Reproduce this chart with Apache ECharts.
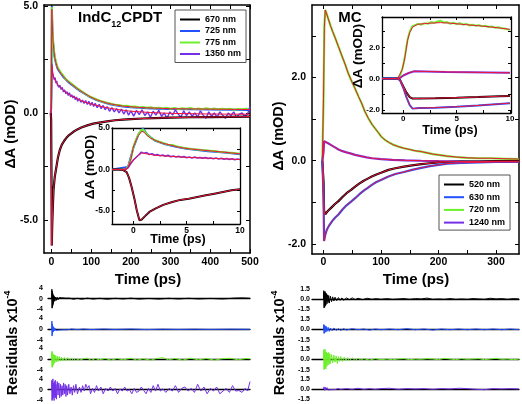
<!DOCTYPE html>
<html><head><meta charset="utf-8">
<script src="https://cdn.jsdelivr.net/npm/echarts@6.0.0/dist/echarts.min.js"></script>
<style>html,body{margin:0;padding:0;background:#fff}#c{width:522px;height:404px}</style>
</head><body><div id="c"></div>
<script>
// ---------- IndC12CPDT main (t ps, dA mOD) ----------
const ind670 = [[-2,0],[-1,-0.3],[0,-3.5],[0.6,-6.2],[1.5,-5.4],[3,-4.5],[5,-3.6],[8,-3.0],[12,-2.55],[16,-2.1],[21,-1.72],[26,-1.48],[32,-1.3],[38,-1.15],[45,-1.02],[55,-0.88],[65,-0.77],[75,-0.68],[90,-0.58],[105,-0.5],[120,-0.45],[140,-0.39],[160,-0.34],[180,-0.31],[200,-0.29],[230,-0.26],[260,-0.24],[300,-0.22],[350,-0.2],[400,-0.19],[450,-0.18],[500,-0.17]];
const ind725 = [[-2,0],[-1,0.2],[0,2.7],[0.8,5.0],[1.5,4.35],[2.5,3.78],[4,3.28],[6,2.88],[8,2.58],[11,2.33],[15,2.08],[20,1.93],[25,1.8],[30,1.68],[36,1.56],[42,1.45],[48,1.36],[54,1.28],[62,1.16],[70,1.05],[80,0.94],[90,0.82],[97,0.74],[105,0.67],[115,0.59],[125,0.53],[139,0.45],[150,0.4],[165,0.35],[180,0.3],[200,0.27],[220,0.24],[240,0.22],[270,0.2],[300,0.18],[350,0.17],[400,0.16],[450,0.15],[500,0.14]];
const ind775 = [[-2,0],[-1,0.2],[0,2.9],[0.8,4.95],[1.5,4.5],[2.5,3.9],[4,3.35],[6,2.95],[8,2.65],[11,2.4],[15,2.15],[20,2.0],[25,1.85],[30,1.74],[35,1.6],[40,1.52],[45,1.45],[50,1.36],[55,1.3],[60,1.24],[65,1.15],[70,1.1],[75,1.02],[80,0.98],[85,0.9],[90,0.86],[95,0.78],[100,0.75],[105,0.7],[110,0.66],[115,0.62],[120,0.6],[125,0.55],[130,0.53],[135,0.5],[140,0.47],[145,0.45],[150,0.44],[160,0.38],[170,0.37],[180,0.33],[190,0.34],[200,0.29],[210,0.3],[220,0.26],[230,0.28],[240,0.24],[250,0.27],[260,0.22],[270,0.25],[280,0.21],[290,0.24],[300,0.2],[310,0.23],[320,0.19],[330,0.22],[340,0.2],[350,0.23],[360,0.18],[370,0.21],[380,0.17],[390,0.22],[400,0.18],[410,0.21],[420,0.16],[430,0.2],[440,0.17],[450,0.2],[460,0.15],[470,0.19],[480,0.17],[490,0.2],[500,0.18]];
const ind775Fit = [[-2,0],[-1,0.2],[0,2.8],[0.8,4.85],[1.5,4.4],[2.5,3.8],[4,3.3],[6,2.9],[8,2.6],[11,2.35],[15,2.1],[20,1.95],[25,1.82],[30,1.7],[36,1.58],[42,1.47],[48,1.38],[54,1.3],[62,1.18],[70,1.07],[80,0.96],[90,0.84],[97,0.76],[105,0.69],[115,0.61],[125,0.55],[139,0.47],[150,0.42],[165,0.37],[180,0.32],[200,0.29],[220,0.26],[240,0.24],[270,0.22],[300,0.2],[350,0.19],[400,0.18],[450,0.17],[500,0.16]];
const ind1350 = [[-2,0],[-1,-0.3],[0,1.0],[1,2.3],[2,2.0],[3,1.85],[5,1.7],[7,1.55],[9,1.65],[11,1.4],[13,1.5],[15,1.3],[17,1.38],[19,1.2],[21,1.3],[24,1.1],[27,1.2],[30,0.98],[33,1.08],[36,0.9],[39,1.0],[42,0.82],[45,0.95],[48,0.75],[51,0.85],[54,0.7],[57,0.8],[60,0.62],[63,0.75],[66,0.55],[70,0.68],[74,0.5],[78,0.6],[82,0.45],[86,0.58],[90,0.4],[94,0.55],[98,0.35],[102,0.5],[106,0.3],[110,0.45],[115,0.25],[120,0.4],[125,0.2],[130,0.35],[135,0.15],[140,0.3],[146,0.08],[152,0.25],[158,0.05],[164,0.2],[170,0.0],[176,0.18],[182,-0.05],[188,0.15],[194,-0.1],[200,0.1],[207,-0.15],[214,0.12],[221,-0.08],[228,0.15],[235,-0.12],[242,0.05],[249,-0.2],[256,0.08],[263,-0.1],[270,0.12],[277,-0.15],[284,0.0],[291,-0.25],[298,0.05],[305,-0.1],[312,0.15],[319,-0.05],[326,-0.2],[333,0.1],[340,-0.12],[347,0.05],[354,-0.15],[361,0.0],[368,-0.2],[375,0.1],[382,-0.1],[389,-0.25],[396,0.05],[403,-0.15],[410,0.0],[417,-0.2],[424,0.05],[431,-0.1],[438,-0.25],[445,0.0],[452,-0.12],[459,0.05],[466,-0.2],[473,-0.05],[480,0.0],[487,-0.15],[494,-0.05],[500,0.3]];
const ind1350Fit = [[-2,0],[0,0.5],[1,2.2],[2,1.95],[4,1.75],[7,1.6],[10,1.5],[15,1.35],[20,1.24],[30,1.05],[40,0.92],[50,0.8],[60,0.7],[75,0.57],[90,0.47],[110,0.37],[130,0.28],[150,0.21],[175,0.14],[200,0.08],[250,0.02],[300,-0.02],[400,-0.05],[500,-0.06]];

// ---------- IndC12CPDT inset (0-10 ps) ----------
const indIn670 = [[-2,0],[-1.5,0.02],[-1,-0.03],[-0.63,-0.3],[-0.4,-1.0],[-0.16,-2.1],[0.1,-3.5],[0.32,-4.9],[0.57,-6.1],[0.8,-6.0],[1.1,-5.6],[1.5,-5.1],[2.06,-4.7],[2.8,-4.25],[3.65,-3.9],[4.4,-3.65],[5.2,-3.5],[6,-3.3],[6.8,-3.1],[7.6,-2.9],[8.4,-2.7],[9.2,-2.5],[10,-2.36]];
const indIn725 = [[-2,0],[-0.5,0.3],[0,2.6],[0.5,4.3],[0.9,4.95],[1.3,4.2],[2,3.5],[3,3.05],[4,2.75],[5,2.5],[6,2.35],[7,2.2],[8,2.1],[9,2.0],[10,1.85]];
const indIn775 = [[-2,0.02],[-1.5,-0.02],[-1,0.03],[-0.7,0.05],[-0.47,0.35],[-0.2,1.4],[0,2.7],[0.25,3.6],[0.47,4.2],[0.7,4.7],[0.9,4.85],[1.1,4.5],[1.3,4.2],[1.6,3.85],[2.0,3.55],[2.4,3.35],[2.8,3.2],[3.2,3.0],[3.65,2.95],[4.0,2.8],[4.4,2.7],[4.8,2.6],[5.2,2.52],[5.6,2.45],[6.0,2.42],[6.4,2.35],[6.8,2.32],[7.2,2.25],[7.6,2.24],[8.0,2.15],[8.4,2.12],[8.8,2.05],[9.2,2.02],[9.6,1.95],[10,1.92]];
const indIn775Fit = [[-2,0],[-1,0],[-0.7,0.05],[-0.47,0.3],[-0.2,1.4],[0,2.7],[0.25,3.5],[0.47,4.1],[0.8,4.6],[1.0,4.5],[1.3,4.1],[1.6,3.8],[2.06,3.5],[2.8,3.15],[3.65,2.9],[4.4,2.65],[5.2,2.5],[6,2.4],[6.8,2.3],[7.6,2.2],[8.4,2.1],[9.2,2.0],[10,1.9]];
const indIn1350 = [[-2,0.02],[-1.75,-0.03],[-1.5,0.04],[-1.25,-0.02],[-1,0.03],[-0.75,0.0],[-0.5,0.2],[-0.25,0.7],[0,1.15],[0.25,1.45],[0.5,1.75],[0.75,2.1],[1.0,1.95],[1.25,2.05],[1.5,1.8],[1.75,1.9],[2.0,1.72],[2.25,1.8],[2.5,1.65],[2.75,1.75],[3.0,1.6],[3.25,1.72],[3.5,1.55],[3.75,1.62],[4.0,1.5],[4.25,1.6],[4.5,1.48],[4.75,1.56],[5.0,1.42],[5.25,1.52],[5.5,1.4],[5.75,1.5],[6.0,1.38],[6.25,1.46],[6.5,1.35],[6.75,1.45],[7.0,1.33],[7.25,1.4],[7.5,1.3],[7.75,1.38],[8.0,1.28],[8.25,1.36],[8.5,1.25],[8.75,1.32],[9.0,1.22],[9.25,1.3],[9.5,1.18],[9.75,1.26],[10.0,1.2]];
const indIn1350Fit = [[-2,0],[-1,0.0],[-0.6,0.1],[-0.16,0.9],[0.2,1.4],[0.47,1.7],[0.8,2.0],[1.2,1.9],[2.06,1.72],[2.8,1.65],[3.65,1.58],[4.4,1.52],[5.2,1.45],[6,1.42],[6.8,1.38],[7.6,1.34],[8.4,1.3],[9.2,1.26],[10,1.2]];

// ---------- MC main ----------
const mc520 = [[-2,0],[0,-0.5],[1,-1.2],[3,-1.29],[8,-1.2],[14,-1.12],[20,-1.04],[26,-0.97],[33,-0.87],[40,-0.78],[48,-0.7],[55,-0.62],[62,-0.55],[70,-0.48],[77,-0.43],[84,-0.38],[92,-0.33],[100,-0.29],[113,-0.22],[125,-0.18],[140,-0.14],[154,-0.11],[170,-0.08],[185,-0.06],[200,-0.04],[215,-0.03],[240,-0.02],[270,-0.02],[300,-0.01],[340,-0.01]];
const mc630 = [[-2,0],[0,-0.8],[1,-1.93],[3,-1.78],[6,-1.65],[10,-1.55],[15,-1.45],[20,-1.37],[26,-1.29],[33,-1.17],[40,-1.07],[48,-0.98],[55,-0.9],[62,-0.81],[70,-0.72],[77,-0.65],[84,-0.58],[92,-0.51],[100,-0.46],[113,-0.38],[125,-0.32],[140,-0.27],[154,-0.22],[170,-0.17],[185,-0.13],[200,-0.1],[215,-0.07],[240,-0.05],[270,-0.04],[300,-0.03],[340,-0.03]];
const mc720 = [[-2,0],[0,1.5],[1.5,3.2],[3,3.62],[5,3.55],[8,3.42],[12,3.25],[16,3.1],[20,2.96],[26,2.74],[32,2.52],[38,2.3],[43,2.1],[48,1.94],[54,1.76],[61,1.54],[67,1.36],[72,1.18],[78,1.02],[84,0.88],[90,0.77],[95,0.68],[101,0.57],[108,0.49],[115,0.43],[122,0.38],[130,0.34],[140,0.3],[150,0.27],[159,0.24],[170,0.22],[180,0.19],[190,0.16],[200,0.14],[215,0.11],[230,0.09],[250,0.07],[270,0.06],[290,0.06],[310,0.05],[340,0.04]];
const mc1240 = [[-2,0],[0,0.2],[1,0.47],[3,0.46],[8,0.42],[14,0.37],[20,0.32],[26,0.27],[33,0.23],[40,0.2],[48,0.17],[55,0.14],[65,0.11],[75,0.08],[84,0.06],[100,0.04],[120,0.02],[142,0.01],[170,0.0],[200,-0.01],[250,-0.02],[300,-0.02],[340,-0.02]];

// ---------- MC inset ----------
const mcIn520 = [[-2,0],[-0.5,0.0],[-0.3,-0.1],[0,-0.5],[0.3,-0.9],[0.6,-1.18],[0.87,-1.28],[1.5,-1.27],[3,-1.25],[5,-1.22],[7,-1.18],[9,-1.13],[10,-1.11]];
const mcIn630 = [[-2,0],[-0.5,0],[-0.3,-0.12],[0,-0.6],[0.3,-1.2],[0.6,-1.7],[0.87,-1.92],[1.5,-1.88],[3,-1.86],[5,-1.8],[7,-1.72],[9,-1.62],[10,-1.57]];
const mcIn720 = [[-2,0],[-1.5,0.02],[-1,-0.01],[-0.5,0.03],[-0.3,0.2],[-0.1,0.6],[0.1,1.2],[0.25,1.85],[0.4,2.5],[0.6,3.0],[0.85,3.35],[1.1,3.42],[1.4,3.5],[1.7,3.45],[2.0,3.55],[2.3,3.5],[2.6,3.62],[2.9,3.56],[3.2,3.65],[3.5,3.7],[3.8,3.58],[4.1,3.62],[4.4,3.5],[4.7,3.58],[5.0,3.48],[5.3,3.55],[5.6,3.45],[5.9,3.5],[6.2,3.4],[6.5,3.45],[6.8,3.38],[7.1,3.42],[7.4,3.34],[7.7,3.38],[8.0,3.3],[8.3,3.33],[8.6,3.26],[8.9,3.28],[9.2,3.22],[9.5,3.2],[9.8,3.15],[10,3.12]];
const mcIn720Fit = [[-2,0],[-1,0.0],[-0.5,0.03],[-0.37,0.1],[-0.1,0.6],[0.1,1.17],[0.25,1.8],[0.4,2.45],[0.6,2.95],[0.87,3.3],[1.34,3.47],[2,3.52],[2.9,3.56],[3.5,3.58],[4.3,3.55],[5.1,3.5],[5.9,3.45],[6.65,3.4],[7.4,3.36],[8.2,3.3],[9.1,3.23],[10,3.15]];
const mcIn1240 = [[-2,0],[-0.5,0.0],[-0.3,0.05],[0,0.2],[0.5,0.36],[1.03,0.47],[2,0.46],[4,0.43],[6,0.41],[8,0.39],[10,0.37]];

// ---------- residuals (x1e-4) ----------
const resInd670 = [[0,0],[0.5,3.5],[1,-3.5],[1.5,2.8],[2,-3.2],[2.5,2],[3,-2.5],[3.5,1.5],[4,-1.8],[5,1.2],[6,-1.0],[7,0.8],[8,-0.9],[10,0.6],[12,-0.6],[14,0.5],[16,-0.4],[19,0.4],[22,-0.3],[25,0.35],[30,-0.3],[35,0.2],[40,-0.25],[45,0.2],[55,-0.2],[65,0.15],[75,-0.2],[90,0.2],[105,-0.15],[120,0.15],[140,-0.2],[160,0.15],[180,-0.1],[200,0.2],[220,-0.15],[245,0.1],[270,-0.15],[295,0.15],[320,-0.1],[345,0.15],[370,-0.1],[400,0.1],[430,-0.1],[460,0.2],[480,0.3],[500,0.15]];
const resInd725 = [[0,0],[0.5,3.0],[1,-2.5],[1.5,2.0],[2,-1.8],[3,1.2],[4,-1.0],[5,0.8],[6,-0.6],[8,0.5],[10,-0.4],[13,0.3],[16,-0.3],[20,0.2],[25,-0.2],[30,0.15],[40,-0.15],[50,0.1],[65,-0.1],[80,0.1],[100,-0.1],[130,0.1],[160,-0.05],[200,0.1],[240,-0.1],[280,0.05],[320,-0.05],[360,0.05],[400,-0.05],[450,0.05],[500,0.0]];
const resInd775 = [[0,0],[0.5,3.0],[1,-3.0],[1.5,2.5],[2,-2.8],[3,2.0],[4,-2.2],[5,1.8],[6,-1.5],[7,1.6],[8,-1.2],[10,1.4],[12,-1.0],[14,1.2],[16,-0.8],[19,1.0],[22,-0.7],[25,0.8],[28,-0.5],[32,0.7],[36,-0.6],[40,0.6],[45,-0.4],[50,0.5],[55,-0.6],[60,0.3],[70,-0.3],[80,0.2],[90,0.4],[100,-0.4],[110,0.3],[120,-0.2],[135,0.3],[150,-0.3],[165,0.3],[180,-0.2],[200,0.4],[215,-0.3],[230,0.2],[250,-0.3],[265,0.3],[280,0.6],[295,-0.2],[310,0.3],[330,-0.3],[350,0.4],[370,-0.2],[390,0.3],[410,-0.3],[430,0.2],[450,0.4],[470,-0.2],[490,0.3],[500,0.2]];
const resInd1350 = [[0,0],[0.5,3.5],[1,-4],[1.5,3],[2,-3.5],[3,4],[4,-3],[5,2.5],[6,-4],[7,3],[8,-2.5],[9,3.5],[10,-3],[11,2],[12,-3.5],[14,3],[16,-2],[18,2.5],[20,-3],[22,2],[24,-2.5],[26,1.5],[28,-2],[30,2.5],[32,-1.5],[34,2],[36,-2.5],[38,1.5],[40,-2],[43,2],[46,-1.5],[49,1],[52,-2],[55,1.5],[58,-1],[61,2],[65,-1.5],[70,1],[74,-1],[78,1.5],[82,-0.5],[86,2],[90,0.5],[94,1.5],[98,-1.5],[103,0.5],[108,-1],[113,1.5],[118,-0.5],[124,1],[130,-1.5],[136,0.5],[142,-0.5],[148,1],[154,-0.5],[160,0.5],[166,-1.5],[172,0.3],[178,-0.5],[184,1],[190,-0.5],[196,0],[202,-1.5],[208,0.5],[214,-1],[220,-0.5],[226,1],[232,-0.3],[238,-1.5],[244,0.5],[250,-1],[256,1.5],[262,-0.5],[268,2],[274,-0.5],[280,0.3],[288,-1],[296,0.5],[304,-0.5],[312,1.5],[320,-1],[328,0.5],[336,1],[344,-0.5],[352,0.5],[360,-1],[368,2],[376,-0.5],[384,1],[392,-1.5],[400,0.5],[408,-0.5],[416,1],[424,-1.5],[432,-0.5],[440,0.5],[448,-1],[456,1.5],[464,-0.5],[472,-0.3],[480,-1],[488,0.5],[494,-0.5],[500,3]];
const resMc520 = [[0,0],[0.5,1.2],[1,-1.3],[1.5,1.0],[2,-1.2],[2.5,1.1],[3,-1.0],[3.5,0.9],[4,-0.9],[5,0.8],[6,-0.7],[7,0.6],[8,-0.5],[9,0.5],[10,-0.6],[12,0.4],[14,-0.4],[16,0.3],[18,-0.3],[20,0.25],[23,-0.25],[26,0.2],[29,-0.2],[32,0.15],[35,-0.2],[40,0.15],[45,-0.1],[50,0.15],[55,-0.1],[60,0.1],[68,-0.1],[76,0.1],[84,-0.05],[92,0.05],[100,-0.05],[110,0.05],[120,-0.05],[130,0.0],[140,0.05],[150,-0.05],[160,0.05],[170,0.0],[180,0.12],[190,-0.05],[200,0.0],[210,-0.05],[220,0.05],[230,-0.05],[240,0.0],[250,-0.05],[260,0.05],[270,0.0],[280,-0.05],[290,0.1],[300,0.0],[310,0.05],[320,-0.05],[330,0.05],[340,0.0]];
const resMc630 = [[0,0],[0.5,0.7],[1,-0.6],[1.5,0.6],[2,-0.5],[3,0.5],[4,-0.4],[5,0.4],[6,-0.3],[8,0.3],[10,-0.3],[12,0.2],[15,-0.2],[18,0.2],[22,-0.15],[26,0.1],[30,-0.15],[35,0.1],[40,-0.1],[50,0.1],[60,-0.05],[70,0.05],[80,-0.1],[90,0.05],[100,-0.05],[115,0.05],[130,-0.05],[145,0.1],[160,-0.05],[175,0.05],[190,-0.1],[205,0.05],[220,-0.05],[235,0.05],[250,-0.05],[265,0.05],[280,-0.05],[295,0.05],[310,-0.05],[325,0.05],[340,-0.05]];
const resMc720 = [[0,0],[0.5,1.4],[1,-1.5],[1.5,1.2],[2,-1.3],[2.5,1.5],[3,-1.2],[3.5,1.0],[4,-1.4],[5,1.1],[6,-1.0],[7,0.9],[8,-0.8],[9,1.0],[10,-0.7],[11,0.8],[12,-0.6],[14,0.7],[16,-0.5],[18,0.6],[20,-0.4],[22,0.5],[24,-0.6],[26,0.4],[28,-0.3],[30,0.4],[33,-0.3],[36,0.3],[39,-0.2],[42,0.25],[45,-0.2],[50,0.2],[55,-0.15],[60,0.15],[65,-0.1],[70,0.1],[80,-0.1],[90,0.1],[100,-0.05],[110,0.05],[120,-0.05],[130,0.05],[140,0.1],[150,-0.05],[160,0.05],[170,0.0],[180,0.1],[190,0.05],[200,-0.05],[210,0.15],[220,0.05],[230,-0.05],[240,0.1],[250,0.0],[260,0.05],[270,0.1],[280,-0.05],[290,0.05],[300,0.15],[310,0.0],[320,0.05],[330,-0.05],[340,0.05]];
const resMc1240 = [[0,0],[1,0.3],[2,-0.2],[3,0.25],[4,-0.15],[6,0.2],[8,-0.15],[10,0.1],[13,-0.1],[16,0.1],[20,-0.1],[25,0.05],[30,-0.05],[40,0.05],[50,-0.05],[60,0.1],[70,-0.05],[80,0.05],[90,-0.05],[100,0.05],[115,0.1],[130,-0.05],[145,0.05],[160,0.0],[175,0.05],[190,-0.05],[205,0.05],[220,0.0],[235,0.1],[250,0.05],[265,-0.05],[280,-0.1],[295,0.05],[310,0.0],[325,0.05],[340,0.0]];

// ---------- ticks / labels ----------
const indXTicks = [0,50,100,150,200,250,300,350,400,450,500];
const indXLabels = [0,100,200,300,400,500];
const indYTicks = [-5,-2.5,0,2.5,5];
const indYLabels = [-5,0,5];
const insetXTicks = [0,2.5,5,7.5,10];
const insetXLabels = [0,5,10];
const mcXTicks = [0,50,100,150,200,250,300];
const mcXLabels = [0,100,200,300];
const mcYTicks = [-2,-1,0,1,2,3];
const mcYLabels = [-2,0,2];
const resIndLabels = [-4,0,4];
const resMcLabels = [-1.5,0,1.5];
const indNames = ['670 nm','725 nm','775 nm','1350 nm'];
const mcNames = ['520 nm','630 nm','720 nm','1240 nm'];

const F = "'Liberation Sans', Arial, Helvetica, sans-serif";
const C = {k:'#000000', b:'#2350ff', g:'#6cf02a', p:'#7430e8', r:'#f0143c'};

const grids = [], xAxes = [], yAxes = [], series = [];
function framed(box, xr, yr, xt, xl, yt, yl, o) {
  const g = {left:box[0], top:box[1], width:box[2], height:box[3]};
  if (o.bg) Object.assign(g, {show:true, backgroundColor:'#fff', borderWidth:0, z:o.z});
  grids.push(g); const gi = grids.length-1;
  const line = {show:true, onZero:false, lineStyle:{color:'#000', width:o.lw}};
  const tick = v => ({show:true, inside:true, length:o.tl, customValues:v, lineStyle:{color:'#000', width:1}});
  const lab = (v, m, fmt) => ({show:true, customValues:v, margin:m, fontSize:o.fs, fontWeight:'bold', fontFamily:F, color:'#000', formatter:fmt});
  const base = {type:'value', gridIndex:gi, z:o.az, splitLine:{show:false}, axisLine:line};
  const xi = xAxes.length, yi = yAxes.length;
  xAxes.push(Object.assign({}, base, {position:'bottom', min:xr[0], max:xr[1], axisTick:tick(xt), axisLabel:lab(xl, o.xm, v=>String(v))}));
  xAxes.push(Object.assign({}, base, {position:'top', min:xr[0], max:xr[1], axisTick:tick(xt), axisLabel:{show:false}}));
  yAxes.push(Object.assign({}, base, {position:'left', min:yr[0], max:yr[1], axisTick:tick(yt), axisLabel:lab(yl, o.ym, v=>v.toFixed(1))}));
  yAxes.push(Object.assign({}, base, {position:'right', min:yr[0], max:yr[1], axisTick:tick(yt), axisLabel:{show:false}}));
  return {x:xi, y:yi};
}
function resid(box, xr, yr, yl, fmt, m) {
  grids.push({left:box[0], top:box[1], width:box[2], height:box[3]}); const gi = grids.length-1;
  xAxes.push({type:'value', gridIndex:gi, min:xr[0], max:xr[1], axisLine:{show:true, onZero:true, lineStyle:{color:'#000', width:1.3}}, axisTick:{show:false}, axisLabel:{show:false}, splitLine:{show:false}});
  yAxes.push({type:'value', gridIndex:gi, min:yr[0], max:yr[1], axisLine:{show:false}, axisTick:{show:false}, splitLine:{show:false}, axisLabel:{show:true, customValues:yl, margin:m, fontSize:7, fontWeight:'bold', fontFamily:F, color:'#000', formatter:fmt}});
  return {x:xAxes.length-1, y:yAxes.length-1};
}
function ln(name, data, color, w, a, z, clip) {
  series.push({type:'line', name:name, data:data, xAxisIndex:a.x, yAxisIndex:a.y, symbol:'none', showSymbol:false,
    color:color, itemStyle:{color:color}, lineStyle:{color:color, width:w}, z:z, silent:true, animation:false,
    clip:clip !== false, emphasis:{disabled:true}});
}

// grids
const aInd = framed([44,5,206,248], [-19,500], [-6.55,5.05], indXTicks, indXLabels, indYTicks, indYLabels, {lw:1.5, tl:4, fs:10.5, xm:4, ym:6, az:1});
const aIndIn = framed([112,128,128,96], [-2,10], [-6.55,5.0], insetXTicks, insetXLabels, indYTicks, indYLabels, {lw:1.3, tl:3, fs:8.5, xm:2, ym:2, az:6, bg:true, z:5});
const aMc = framed([312,5,207,249], [-20,340], [-2.24,3.74], mcXTicks, mcXLabels, mcYTicks, mcYLabels, {lw:1.5, tl:4, fs:10.5, xm:3, ym:6, az:1});
const aMcIn = framed([382,17,129,96], [-2,10.1], [-2.2,3.94], insetXTicks, insetXLabels, mcYTicks, mcYLabels, {lw:1.3, tl:3, fs:8, xm:2, ym:2, az:6, bg:true, z:5});

const resLeftTops = [287.9, 318.5, 348.5, 378.9];
const resRightTops = [288.6, 319, 349, 378.6];
const rL = resLeftTops.map(t => resid([48,t,202,21.6], [-9.3,500], [-4,4], resIndLabels, v=>String(v), 5));
const rR = resRightTops.map(t => resid([312,t,207,20.7], [-20,340], [-1.5,1.5], resMcLabels, v=>v.toFixed(1), 2));

// IndC12CPDT main
ln('725 nm', ind725, C.b, 2, aInd, 2);
ln('775 nm', ind775, C.g, 2, aInd, 3);
ln('1350 nm', ind1350, C.p, 1.4, aInd, 3);
ln('670 nm', ind670, C.k, 2.2, aInd, 3);
ln('fit', ind775Fit, C.r, 1, aInd, 4);
ln('fit', ind1350Fit, C.r, 1, aInd, 4);
ln('fit', ind670, C.r, 1, aInd, 4);
// inset
ln('725 nm', indIn725, C.b, 2, aIndIn, 7);
ln('775 nm', indIn775, C.g, 2, aIndIn, 7);
ln('1350 nm', indIn1350, C.p, 1.6, aIndIn, 7);
ln('670 nm', indIn670, C.k, 2, aIndIn, 7);
ln('fit', indIn775Fit, C.r, 1, aIndIn, 8);
ln('fit', indIn1350Fit, C.r, 1, aIndIn, 8);
ln('fit', indIn670, C.r, 1, aIndIn, 8);
// MC main
ln('720 nm', mc720, C.g, 2.2, aMc, 3);
ln('1240 nm', mc1240, C.p, 2.2, aMc, 3);
ln('520 nm', mc520, C.k, 2.2, aMc, 3);
ln('630 nm', mc630, C.b, 2.2, aMc, 3);
ln('fit', mc720, C.r, 1, aMc, 4);
ln('fit', mc1240, C.r, 1, aMc, 4);
ln('fit', mc520, C.r, 1, aMc, 4);
ln('fit', mc630, C.r, 1, aMc, 4);
// MC inset
ln('720 nm', mcIn720, C.g, 2, aMcIn, 7);
ln('1240 nm', mcIn1240, C.p, 2, aMcIn, 7);
ln('520 nm', mcIn520, C.k, 2, aMcIn, 7);
ln('630 nm', mcIn630, C.b, 2, aMcIn, 7);
ln('fit', mcIn720Fit, C.r, 1, aMcIn, 8);
ln('fit', mcIn1240, C.r, 1, aMcIn, 8);
ln('fit', mcIn520, C.r, 1, aMcIn, 8);
ln('fit', mcIn630, C.r, 1, aMcIn, 8);
// residuals
[resInd670, resInd725, resInd775, resInd1350].forEach((d,i) => ln('res', d, [C.k,C.b,C.g,C.p][i], 1, rL[i], 3, false));
[resMc520, resMc630, resMc720, resMc1240].forEach((d,i) => ln('res', d, [C.k,C.b,C.g,C.p][i], 1, rR[i], 3, false));

function txt(x, y, s, size, rot, extra) {
  return Object.assign({type:'text', x:x, y:y, rotation:rot||0, z:20, silent:true,
    style:Object.assign({text:s, fill:'#000', fontSize:size, fontWeight:'bold', fontFamily:F,
      align:'center', verticalAlign:'middle', textAlign:'center', textVerticalAlign:'middle'}, extra||{})});
}
const R = Math.PI/2;
const supRich = {a:{fontSize:14.5, fontWeight:'bold', fontFamily:F, lineHeight:20, fill:'#000'}, b:{fontSize:8.5, fontWeight:'bold', fontFamily:F, lineHeight:9, verticalAlign:'top', fill:'#000'}};
const graphic = [
  txt(78, 18, '{a|IndC}{b|12}{a|CPDT}', 15, 0, {align:'left', textAlign:'left',
     rich:{a:{fontSize:15, fontWeight:'bold', fontFamily:F, lineHeight:22, fill:'#000'}, b:{fontSize:9, fontWeight:'bold', fontFamily:F, lineHeight:9, verticalAlign:'bottom', fill:'#000'}}}),
  txt(350, 18, 'MC', 15),
  txt(11, 134, 'ΔA (mOD)', 14.5, R),
  txt(279, 136, 'ΔA (mOD)', 14.5, R),
  txt(90, 167, 'ΔA (mOD)', 13.5, R),
  txt(358, 56, 'ΔA (mOD)', 13.5, R),
  txt(148, 280, 'Time (ps)', 15),
  txt(416, 280, 'Time (ps)', 15),
  txt(178, 240, 'Time (ps)', 12.5),
  txt(450, 131, 'Time (ps)', 12.5),
  txt(13, 343, '{a|Residuals x10}{b|-4}', 14.5, R, {rich:supRich}),
  txt(280, 343, '{a|Residuals x10}{b|-4}', 14.5, R, {rich:supRich})
];

function legend(names, left, top, pad, gap) {
  return {data:names, left:left, top:top, orient:'vertical', icon:'rect', itemWidth:20, itemHeight:2, itemGap:gap,
    padding:pad, borderColor:'#555', borderWidth:1, backgroundColor:'#fff', z:20, selectedMode:false,
    textStyle:{fontSize:9, fontWeight:'bold', fontFamily:F, color:'#000', lineHeight:11}};
}

const chart = echarts.init(document.getElementById('c'), null, {renderer:'canvas'});
chart.setOption({
  animation:false, backgroundColor:'#fff',
  grid:grids, xAxis:xAxes, yAxis:yAxes, series:series,
  legend:[legend(indNames, 175, 10, [4,5,3,5], 0.5), legend(mcNames, 439, 175, [4,5,2,5], 1.7)],
  graphic:graphic
});
</script></body></html>
